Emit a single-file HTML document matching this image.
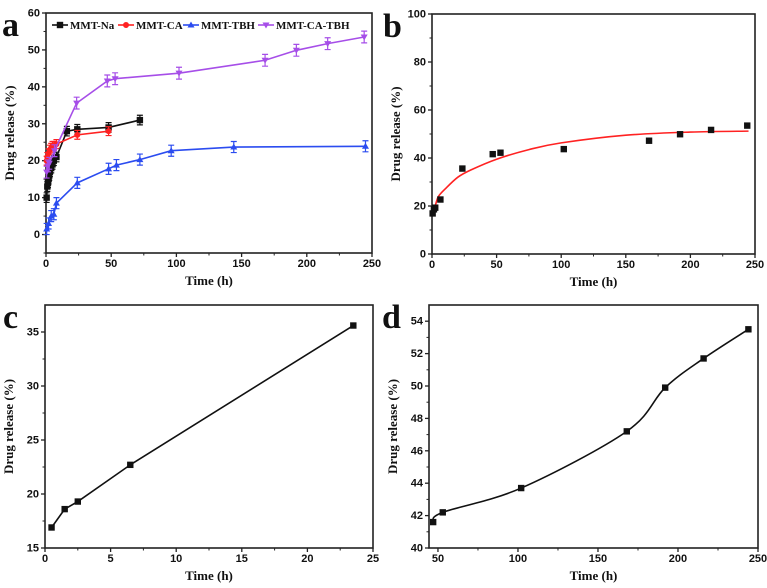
<!DOCTYPE html>
<html><head><meta charset="utf-8"><style>
html,body{margin:0;padding:0;background:#fff;}
svg{display:block;}
.tk{font:bold 11px "Liberation Sans",sans-serif;fill:#111;}
.ti{font:bold 13px "Liberation Serif",serif;fill:#111;}
.pl{font:bold 34px "Liberation Serif",serif;fill:#111;}
.lg{font:bold 11px "Liberation Serif",serif;fill:#111;}
</style></head><body>
<svg id="c" width="767" height="588" viewBox="0 0 767 588" xmlns="http://www.w3.org/2000/svg"></svg>
<script>
// Panel a data
const naX=[0.5,1,1.5,2,2.5,3,4,5,6,8,16,24,48,72];
const naY=[10,13,14,15,16,17,18,19,20,21,28,28.5,29,31];
const caX=[0.5,1,2,3,4,5,6,8,24,48];
const caY=[20,21,22,23,23.5,24,24,24.5,27,28];
const tbhX=[0.5,2,4,6,8,24,48,54,72,96,144,245];
const tbhY=[1.5,3,5,5.5,8.5,14,17.8,18.8,20.3,22.7,23.7,23.9];
const ctX=[0.5,1.5,2.5,6.5,23.5,47,53,102,168,192,216,244];
const ctY=[16.9,18.6,19.3,22.7,35.6,41.6,42.2,43.7,47.2,49.9,51.7,53.5];
// Panel b fit curve samples
const fitX=[0.5,3,5,10,20,30,50,75,100,150,200,245];
const fitY=[16,21,24,27,32,35,39.5,43.5,46.3,49.5,50.8,51.2];
// Panel c data
const cX=[0.5,1.5,2.5,6.5,23.5];
const cY=[16.9,18.6,19.3,22.7,35.6];
// Panel d data
const dX=[47,53,102,168,192,216,244];
const dY=[41.6,42.2,43.7,47.2,49.9,51.7,53.5];
// ticks
const aXT=[0,50,100,150,200,250], aYT=[0,10,20,30,40,50,60];
const bXT=[0,50,100,150,200,250], bYT=[0,20,40,60,80,100];
const cXT=[0,5,10,15,20,25], cYT=[15,20,25,30,35];
const dXT=[50,100,150,200,250], dYT=[40,42,44,46,48,50,52,54];

const svg=document.getElementById('c');
const NS='http://www.w3.org/2000/svg';
function mk(tag,at,parent){const e=document.createElementNS(NS,tag);for(const k in at)e.setAttribute(k,at[k]);(parent||svg).appendChild(e);return e;}

function panel(name,L,T,R,B,x0,x1,y0,y1,xt,yt,xminor,yminor,letter,lx,ly){
  const g=mk('g',{});
  
  
  const sx=v=>L+(v-x0)/(x1-x0)*(R-L), sy=v=>B-(v-y0)/(y1-y0)*(B-T);
  const fr=mk('rect',{x:L,y:T,width:R-L,height:B-T,fill:'none',stroke:'#222','stroke-width':1.6},g);
  
  
  xt.forEach((v,i)=>{
    mk('line',{x1:sx(v),x2:sx(v),y1:B,y2:B+4,stroke:'#222','stroke-width':1.3},g);
    const t=mk('text',{x:sx(v),y:B+14,'text-anchor':'middle',class:'tk'},g);t.textContent=v;
    
    
    if(i<xt.length-1){const m=(v+xt[i+1])/2;mk('line',{x1:sx(m),x2:sx(m),y1:B,y2:B+2.5,stroke:'#222','stroke-width':1},g);}
  });
  yt.forEach((v,i)=>{
    mk('line',{x1:L-4,x2:L,y1:sy(v),y2:sy(v),stroke:'#222','stroke-width':1.3},g);
    const t=mk('text',{x:L-6,y:sy(v)+3.5,'text-anchor':'end',class:'tk'},g);t.textContent=v;
    
    
    if(i<yt.length-1){const m=(v+yt[i+1])/2;mk('line',{x1:L-2.5,x2:L,y1:sy(m),y2:sy(m),stroke:'#222','stroke-width':1},g);}
  });
  if(yminor){const m=yt[0]-(yt[1]-yt[0])/2;if(m>=y0)mk('line',{x1:L-2.5,x2:L,y1:sy(m),y2:sy(m),stroke:'#222','stroke-width':1},g);}
  const xtl=mk('text',{x:(L+R)/2,y:B+32,'text-anchor':'middle',class:'ti'},g);xtl.textContent='Time (h)';
  
  
  const cy=(T+B)/2;
  const ytl=mk('text',{x:L-32,y:cy,'text-anchor':'middle',class:'ti',transform:`rotate(-90 ${L-32} ${cy})`},g);ytl.textContent='Drug release (%)';
  
  
  const pl=mk('text',{x:lx,y:ly,class:'pl'},g);pl.textContent=letter;
  
  
  return {g,sx,sy};
}
function marker(g,type,x,y,col){
  if(type==='s')mk('rect',{x:x-3.2,y:y-3.2,width:6.4,height:6.4,fill:col},g);
  else if(type==='c')mk('circle',{cx:x,cy:y,r:3,fill:col},g);
  else if(type==='t')mk('polygon',{points:`${x},${y-3.5} ${x-3.5},${y+2.5} ${x+3.5},${y+2.5}`,fill:col},g);
  else mk('polygon',{points:`${x},${y+3.5} ${x-3.5},${y-2.5} ${x+3.5},${y-2.5}`,fill:col},g);
}
function series(p,name,X,Y,col,type,err){
  const g=mk('g',{},p.g);
  
  
  mk('polyline',{points:X.map((v,i)=>p.sx(v)+','+p.sy(Y[i])).join(' '),fill:'none',stroke:col,'stroke-width':1.6},g);
  X.forEach((v,i)=>{
    const x=p.sx(v),y=p.sy(Y[i]);
    if(err){const e1=p.sy(Y[i]+err),e2=p.sy(Y[i]-err);
      mk('path',{d:`M${x},${e1}V${e2}M${x-3},${e1}H${x+3}M${x-3},${e2}H${x+3}`,stroke:col,'stroke-width':1.2,fill:'none'},g);}
    marker(g,type,x,y,col);
  });
}
function smoothPath(pts){
  let d=`M${pts[0][0]},${pts[0][1]}`;
  for(let i=0;i<pts.length-1;i++){
    const p0=pts[Math.max(0,i-1)],p1=pts[i],p2=pts[i+1],p3=pts[Math.min(pts.length-1,i+2)];
    const c1=[p1[0]+(p2[0]-p0[0])/6,p1[1]+(p2[1]-p0[1])/6],c2=[p2[0]-(p3[0]-p1[0])/6,p2[1]-(p3[1]-p1[1])/6];
    d+=`C${c1[0]},${c1[1]} ${c2[0]},${c2[1]} ${p2[0]},${p2[1]}`;
  }
  return d;
}

// Panel a
const pa=panel('panel-a',46,13,372,253,0,250,-5,60,aXT,aYT,true,true,'a',2,36);
series(pa,'series-mmt-na',naX,naY,'#111','s',1.3);
series(pa,'series-mmt-ca',caX,caY,'#f22','c',1.2);
series(pa,'series-mmt-tbh',tbhX,tbhY,'#2b4cf0','t',1.5);
series(pa,'series-mmt-ca-tbh',ctX,ctY,'#a64ee8','v',1.6);
const legend=[['MMT-Na','#111','s',52],['MMT-CA','#f22','c',118],['MMT-TBH','#2b4cf0','t',183],['MMT-CA-TBH','#a64ee8','v',258]];
legend.forEach(l=>{
  const g=mk('g',{},pa.g);
  
  
  mk('line',{x1:l[3],x2:l[3]+16,y1:25,y2:25,stroke:l[1],'stroke-width':1.6},g);
  marker(g,l[2],l[3]+8,25,l[1]);
  const t=mk('text',{x:l[3]+18,y:29,class:'lg'},g);t.textContent=l[0];
});

// Panel b
const pb=panel('panel-b',432,14,755,254,0,250,0,100,bXT,bYT,true,true,'b',383,37);
{const g=mk('g',{},pb.g);
 
 
 mk('path',{d:smoothPath(fitX.map((v,i)=>[pb.sx(v),pb.sy(fitY[i])])),fill:'none',stroke:'#f22','stroke-width':1.6},g);
 const g2=mk('g',{},pb.g);
 
 
 ctX.forEach((v,i)=>marker(g2,'s',pb.sx(v),pb.sy(ctY[i]),'#111'));}

// Panel c
const pc=panel('panel-c',45,305,373,548,0,25,15,37.5,cXT,cYT,true,true,'c',3,328);
series(pc,'series-c',cX,cY,'#111','s',0);

// Panel d
const pd=panel('panel-d',429,305,758,548,44.4,250,40,55,dXT,dYT,true,true,'d',382,328);
{const g=mk('g',{},pd.g);
 
 
 mk('path',{d:smoothPath(dX.map((v,i)=>[pd.sx(v),pd.sy(dY[i])])),fill:'none',stroke:'#111','stroke-width':1.6},g);
 dX.forEach((v,i)=>marker(g,'s',pd.sx(v),pd.sy(dY[i]),'#111'));}
</script>
</body></html>
